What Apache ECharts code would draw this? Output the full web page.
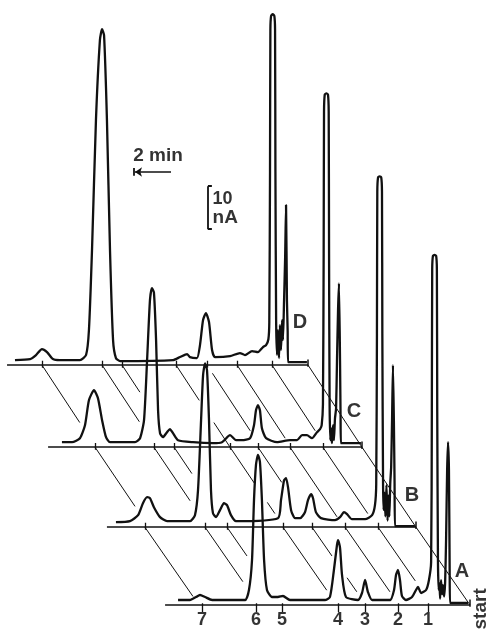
<!DOCTYPE html>
<html lang="en">
<head>
<meta charset="UTF-8" />
<title>chromatograms A-D</title>
<style>
  html, body { margin: 0; padding: 0; background: #fff; }
  #main { width: 492px; height: 629px; }
</style>
<script src="https://cdn.jsdelivr.net/npm/echarts/dist/echarts.min.js"></script>
</head>
<body>
<div id="main"></div>
<script>
  // time in min counted back from "start", current in nA above each trace's own baseline
  const TRACE_A = [
    [16.22,1.16],[15.56,1.16],[15.22,1.86],[15.0,2.33],[14.72,1.86],[14.33,1.16],
    [12.5,1.16],[12.28,3.49],[12.11,10.47],[12.0,24.4],[11.89,32.6],[11.78,34.9],[11.67,33.3],[11.56,24.4],[11.44,10.47],[11.28,3.49],[11.0,1.86],
    [10.67,1.86],[10.39,2.09],[10.0,1.16],
    [8.06,1.16],[7.78,1.86],[7.56,8.14],[7.39,13.95],[7.33,15.1],[7.22,13.3],[7.11,6.98],[6.89,1.86],
    [6.22,1.16],[6.0,2.79],[5.83,5.81],[5.67,3.02],[5.44,1.16],
    [4.44,1.16],[4.22,3.49],[4.11,6.98],[4.0,8.14],[3.89,5.81],[3.78,2.09],[3.56,1.16],
    [3.22,1.86],[3.0,3.49],[2.89,4.19],[2.72,2.79],[2.44,3.49],[2.28,5.81],
    [2.16,10],[2.12,45],[2.1,78],[2.06,81.2],[1.97,81.4],[1.88,81.2],[1.84,78],[1.82,45],[1.78,10],
    [1.74,3.5],[1.7,5.1],[1.66,1.5],[1.61,5.8],[1.55,2.5],[1.5,4.6],[1.44,2.0],[1.38,5.5],
    [1.33,15],[1.27,31.4],[1.22,37.9],[1.17,31.4],[1.13,8],[1.11,0.47],[0.11,0.47]
  ];
  const TRACE_B = [
    [16.67,1.16],[15.89,1.4],[15.44,2.79],[15.17,5.58],[14.94,6.98],[14.78,6.74],[14.56,4.65],[14.22,2.33],[13.83,1.4],
    [12.56,1.4],[12.28,2.79],[12.11,8.6],[11.94,24.9],[11.83,35.3],[11.72,38.1],[11.61,36.5],[11.5,24.9],[11.39,8.6],[11.28,3.26],
    [11.11,2.33],[10.89,3.95],[10.67,5.58],[10.5,5.12],[10.28,2.79],[10.0,1.4],
    [7.67,2.09],[7.5,6.28],[7.33,10.93],[7.22,11.4],[7.11,9.3],[6.94,3.95],[6.72,2.09],
    [6.44,2.09],[6.17,3.49],[6.0,6.28],[5.83,7.67],[5.72,6.74],[5.56,3.49],[5.28,2.09],
    [4.5,1.63],[4.22,2.33],[4.0,3.49],[3.83,3.02],[3.56,1.86],
    [2.83,1.86],[2.44,2.79],[2.28,5.12],
    [2.21,10],[2.17,45],[2.15,78],[2.11,81.3],[2.02,81.6],[1.93,81.3],[1.89,78],[1.87,45],[1.83,10],
    [1.8,4],[1.75,8],[1.7,2.5],[1.64,9.8],[1.58,1.5],[1.53,7.4],[1.48,2.5],[1.43,10.2],
    [1.38,14],[1.33,25],[1.28,37.7],[1.23,25],[1.19,10],[1.17,0.23],[0.06,0.23]
  ];
  const TRACE_C = [
    [16.67,1.16],[16.11,1.16],[15.67,2.09],[15.39,5.12],[15.17,10.93],[14.89,13.26],[14.67,11.4],[14.44,6.28],[14.22,2.33],[14.0,1.16],
    [12.61,1.16],[12.33,2.09],[12.11,6.28],[11.94,20.2],[11.78,34.2],[11.67,37.0],[11.56,36.0],[11.44,24.9],[11.33,8.6],[11.22,3.26],
    [11.06,2.33],[10.83,3.49],[10.67,4.19],[10.5,3.26],[10.22,1.63],
    [9.39,1.16],[8.28,0.93],[7.78,1.16],[7.33,2.79],[7.0,1.63],[6.67,1.63],
    [6.22,2.09],[6.0,5.12],[5.89,8.6],[5.78,9.77],[5.67,8.6],[5.56,4.42],[5.33,2.09],
    [4.72,1.16],[4.0,1.63],[3.61,1.63],[3.33,2.79],[3.06,2.79],[2.78,2.09],[2.5,3.49],[2.33,4.19],[2.24,5.12],
    [2.17,10],[2.13,45],[2.11,78],[2.07,82],[1.98,82.3],[1.89,82],[1.85,78],[1.83,45],[1.8,10],
    [1.76,1.63],[1.72,4.42],[1.67,0.93],[1.61,5.12],[1.56,1.63],[1.5,6.74],[1.44,9],[1.39,20],
    [1.33,32],[1.28,38.1],[1.22,20],[1.19,6.74],[1.17,0.93],[0.06,0.93]
  ];
  const TRACE_D = [
    [16.28,1.16],[15.44,1.4],[15.11,2.33],[14.78,3.72],[14.5,3.02],[14.17,1.4],[13.78,1.16],
    [12.67,1.16],[12.33,2.33],[12.17,8.14],[12.0,26.7],[11.78,57.0],[11.56,75.6],[11.44,78.1],[11.33,76.7],[11.17,57.0],[11.0,26.7],[10.83,5.81],[10.67,1.63],
    [10.44,0.93],[7.5,1.16],[7.11,1.86],[6.72,2.56],[6.56,1.86],[6.17,1.63],
    [6.0,4.65],[5.83,10.47],[5.67,12.09],[5.5,10.0],[5.33,3.49],[5.17,1.86],
    [4.33,2.09],[3.78,2.79],[3.5,2.33],[3.11,3.26],[2.78,3.02],[2.5,4.19],[2.33,4.65],[2.2,6],
    [2.15,10],[2.11,45],[2.09,78],[2.05,81.2],[1.96,81.6],[1.87,81.2],[1.83,78],[1.81,45],[1.77,10],
    [1.72,2.33],[1.67,8.14],[1.61,1.63],[1.56,9.3],[1.5,3.5],[1.44,10.47],[1.39,5.81],[1.33,15],
    [1.27,25],[1.22,37.2],[1.17,15],[1.13,8],[1.11,0.7],[0.06,0.7]
  ];

  const TRACE_NAMES = ["A", "B", "C", "D"];
  const TRACE_SHIFT_MIN = [0, 3, 6, 9];        // each run drawn 3 min further left
  const TRACE_SHIFT_NA = [0, 18.1, 36.7, 55.8]; // and raised
  const AXIS_LEFT_MIN = [16.94, 17.17, 17.44, 16.72];

  // peak labels under trace A
  const PEAK_LABELS = ["7", "6", "5", "4", "3", "2", "1"];
  const PEAK_TIMES_A = [14.89, 11.89, 10.44, 7.33, 5.83, 4.0, 2.33];

  // tick times on the upper baselines, last one is "start"; each with the drawn part(s) of its slanted line
  const TICKS_B = [15.06, 11.72, 10.5, 7.39, 5.78, 3.94, 2.11, 0];
  const TICKS_C = [14.83, 11.56, 10.44, 7.33, 5.78, 4.0, 2.17, 0];
  const TICKS_D = [14.78, 11.44, 10.33, 7.33, 5.61, 3.94, 2.0, 0];
  const SEGS_B = [[[0,0.89]], [[0,0.70]], [[0,0.37]], [[0,0.81]], [[0,0.37],[0.65,0.83]], [[0,0.83]], [[0,0.69]], [[0,1]]];
  const SEGS_C = [[[0,0.74]], [[0,0.67]], [[0,0.33]], [[0,0.46],[0.69,0.83]], [[0,0.44]], [[0,0.87]], [[0,0.83]], [[0,1]]];
  const SEGS_D = [[[0,0.70]], [[0,0.69]], [[0,0.33]], [[0,0.43],[0.70,1.0]], [[0.1,0.80]], [[0,0.89]], [[0,0.80]], [[0,1]]];

  const SCALE_MIN = 2;   // "2 min" arrow
  const SCALE_NA = 10;   // "10 nA" bar

  const INK = "#111";
  const FONT = "Liberation Sans, Arial, sans-serif";

  const chart = echarts.init(document.getElementById("main"));

  function place(k, t, i) {
    return [t + TRACE_SHIFT_MIN[k], i + TRACE_SHIFT_NA[k]];
  }

  const traceSeries = [TRACE_A, TRACE_B, TRACE_C, TRACE_D].map(function (pts, k) {
    return {
      type: "line",
      name: TRACE_NAMES[k],
      data: pts.map(p => place(k, p[0], p[1])),
      showSymbol: false,
      smooth: 0.2,
      clip: false,
      lineStyle: { color: INK, width: 2.3 },
      z: 3
    };
  });

  // baselines + end ticks
  const baseLines = [];
  for (let k = 0; k < 4; k++) {
    baseLines.push({ coords: [place(k, AXIS_LEFT_MIN[k], 0), place(k, 0, 0)] });
    baseLines.push({ coords: [place(k, 0, 1.3), place(k, 0, -0.4)] });
  }

  // slanted lines from an upper run to the one below, plus their ticks
  const slants = [];
  const ticks = [];
  [[1, TICKS_B, SEGS_B], [2, TICKS_C, SEGS_C], [3, TICKS_D, SEGS_D]].forEach(function (row) {
    const u = row[0], times = row[1], segs = row[2];
    const dY = TRACE_SHIFT_NA[u] - TRACE_SHIFT_NA[u - 1];
    const dX = TRACE_SHIFT_MIN[u] - TRACE_SHIFT_MIN[u - 1];
    times.forEach(function (t, j) {
      const x0 = t + TRACE_SHIFT_MIN[u], y0 = TRACE_SHIFT_NA[u];
      segs[j].forEach(function (s) {
        slants.push({ coords: [[x0 - dX * s[0], y0 - dY * s[0]], [x0 - dX * s[1], y0 - dY * s[1]]] });
      });
      if (t > 0) ticks.push({ coords: [place(u, t, 1.0), place(u, t, -0.6)] });
    });
  });
  PEAK_TIMES_A.forEach(function (t) {
    ticks.push({ coords: [place(0, t, 0.4), place(0, t, -1.6)] });
  });

  // scale bars
  const arrowY = 100.7, arrowX = 16.61;
  const barX = 14.56, barY = 87.4;
  const scaleLines = [
    { coords: [[arrowX + SCALE_MIN + 0.05, arrowY - 0.9], [arrowX + SCALE_MIN + 0.05, arrowY + 0.9]] },
    { coords: [[barX, barY], [barX, barY + SCALE_NA]] },
    { coords: [[barX, barY], [barX - 0.22, barY]] },
    { coords: [[barX, barY + SCALE_NA], [barX - 0.22, barY + SCALE_NA]] }
  ];

  function txt(value, name, size, extra) {
    return { value: value, name: name,
      label: Object.assign({ fontSize: size }, extra || {}) };
  }

  const texts = [];
  PEAK_LABELS.forEach(function (lab, j) {
    texts.push(txt(place(0, PEAK_TIMES_A[j], -3.6), lab, 18));
  });
  const letterPos = [[0.44, 7.9], [0.22, 7.4], [0.44, 8.4], [0.44, 10]];
  TRACE_NAMES.forEach(function (n, k) {
    texts.push(txt(place(k, letterPos[k][0], letterPos[k][1]), n, 20));
  });
  texts.push(txt([-0.61, -0.9], "start", 19, { rotate: 90 }));
  texts.push(txt([17.33, 104.4], "2 min", 19));
  texts.push(txt([14.3, 94.4], "10", 18, { align: "left" }));
  texts.push(txt([14.3, 90.0], "nA", 19, { align: "left" }));

  const option = {
    animation: false,
    backgroundColor: "#fff",
    grid: { left: 2, right: 4, top: 3, bottom: 2.5 },
    xAxis: { type: "value", min: -1, max: 26, inverse: true, show: false },
    yAxis: { type: "value", min: -5, max: 140, show: false },
    series: traceSeries.concat([
      {
        type: "lines", coordinateSystem: "cartesian2d", data: baseLines,
        lineStyle: { color: INK, width: 1.5, opacity: 1 }, z: 2, silent: true
      },
      {
        type: "lines", coordinateSystem: "cartesian2d", data: slants,
        lineStyle: { color: INK, width: 1, opacity: 1 }, z: 2, silent: true
      },
      {
        type: "lines", coordinateSystem: "cartesian2d", data: ticks,
        lineStyle: { color: INK, width: 1.3, opacity: 1 }, z: 2, silent: true
      },
      {
        type: "lines", coordinateSystem: "cartesian2d", data: scaleLines,
        lineStyle: { color: INK, width: 1.8, opacity: 1 }, z: 2, silent: true
      },
      {
        type: "lines", coordinateSystem: "cartesian2d",
        data: [{ coords: [[arrowX + SCALE_MIN, arrowY], [arrowX, arrowY]] }],
        symbol: ["arrow", "none"], symbolSize: 7,
        lineStyle: { color: INK, width: 1.5, opacity: 1 }, z: 2, silent: true
      },
      {
        type: "scatter", data: texts, symbolSize: 1,
        itemStyle: { color: "rgba(0,0,0,0)" }, silent: true, z: 4,
        label: {
          show: true, position: "inside", formatter: "{b}",
          color: "#000", fontWeight: "bold", fontFamily: FONT,
          textBorderWidth: 0, textBorderColor: "transparent"
        }
      }
    ])
  };
  chart.setOption(option);
</script>
</body>
</html>
